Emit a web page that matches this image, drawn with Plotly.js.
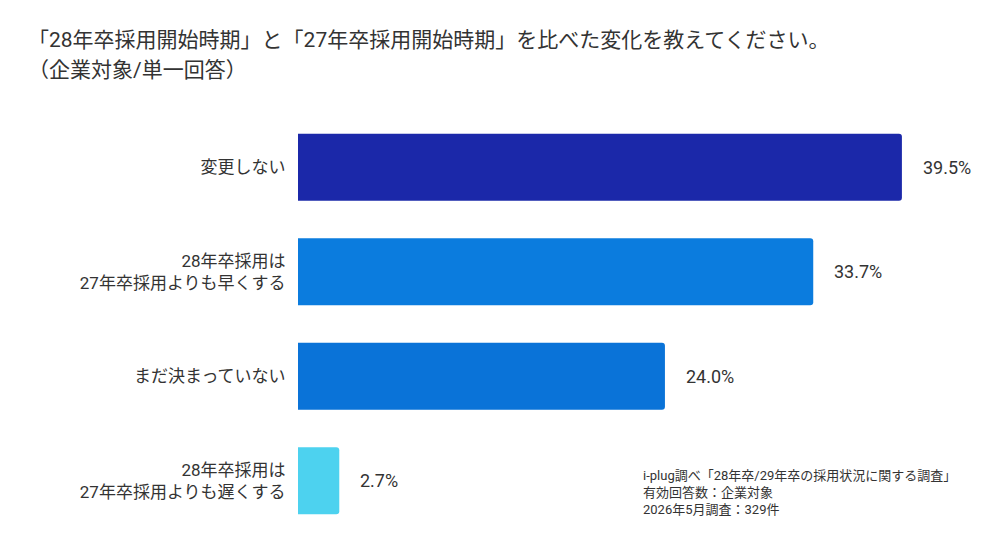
<!DOCTYPE html>
<html>
<head>
<meta charset="utf-8">
<script src="https://cdn.plot.ly/plotly-3.0.1.min.js"></script>
<style>html,body{margin:0;padding:0;background:#fff;}#chart{width:1000px;height:539px;}</style>
</head>
<body>
<div id="chart"></div>
<script>
const categories = [
  "変更しない",
  "28年卒採用は<br>27年卒採用よりも早くする",
  "まだ決まっていない",
  "28年卒採用は<br>27年卒採用よりも遅くする"
];
const values = [39.5, 33.7, 24.0, 2.7];
const valueLabels = ["39.5%", "33.7%", "24.0%", "2.7%"];
const barColors = ["#1b28a9", "#0b7cde", "#0a73d8", "#4dd2ef"];
const titleLines = [
  "「28年卒採用開始時期」と「27年卒採用開始時期」を比べた変化を教えてください。",
  "（企業対象/単一回答）"
];
const sourceLines = [
  "i-plug調べ「28年卒/29年卒の採用状況に関する調査」",
  "有効回答数：企業対象",
  "2026年5月調査：329件"
];

const FONT = "Roboto, 'Noto Sans CJK JP', sans-serif";
const TXT = "#333333";

const trace = {
  type: "bar",
  orientation: "h",
  y: categories,
  x: values,
  marker: {color: barColors, cornerradius: 3},
  hoverinfo: "skip"
};

const annotations = values.map((v, i) => ({
  x: v, y: categories[i], xref: "x", yref: "y",
  text: valueLabels[i], showarrow: false,
  xanchor: "left", yanchor: "middle", xshift: 19,
  font: {family: FONT, size: 18, color: TXT}
}));

annotations.push({
  xref: "paper", yref: "paper",
  x: (641 - 298) / 688, y: (539 - 466 - 6) / 418,
  xanchor: "left", yanchor: "top", align: "left",
  showarrow: false,
  text: sourceLines.join("<br>"),
  font: {family: FONT, size: 13, color: TXT}
});

titleLines.forEach((t, i) => {
  annotations.push({
    xref: "paper", yref: "paper",
    x: (26 - 298) / 688, y: (539 - 6 - (40 + 30 * i)) / 418,
    xanchor: "left", yanchor: "middle", align: "left",
    showarrow: false, text: t,
    font: {family: FONT, size: 21, color: TXT}
  });
});

const layout = {
  width: 1000, height: 539,
  margin: {l: 298, r: 14, t: 115, b: 6},
  paper_bgcolor: "#ffffff",
  plot_bgcolor: "#ffffff",
  showlegend: false,
  bargap: 0.357,
  xaxis: {range: [0, 45], visible: false, fixedrange: true},
  yaxis: {
    autorange: "reversed",
    showgrid: false, zeroline: false, showline: false,
    ticks: "outside", ticklen: 8, tickcolor: "rgba(0,0,0,0)",
    tickfont: {family: FONT, size: 17, color: TXT},
    fixedrange: true
  },
  annotations: annotations
};

Plotly.newPlot("chart", [trace], layout, {displayModeBar: false, staticPlot: true});
</script>
</body>
</html>
